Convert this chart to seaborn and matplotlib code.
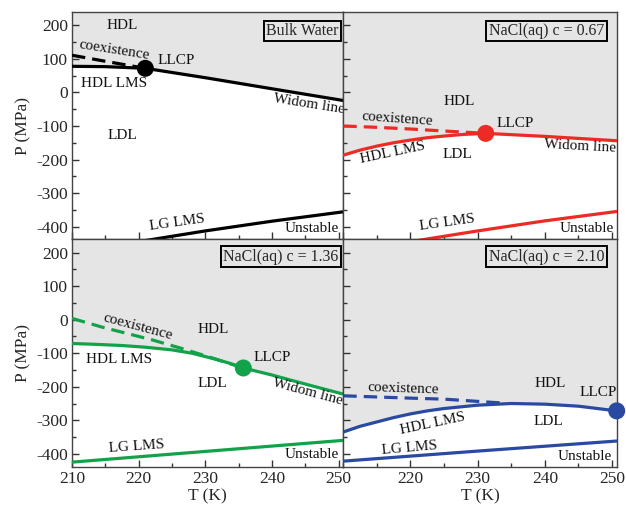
import numpy as np
import pandas as pd
import matplotlib
matplotlib.use("Agg")
import matplotlib.pyplot as plt
import seaborn as sns
from matplotlib.ticker import MultipleLocator

# ---- data (T in K, P in MPa) ----
panel_names = ["Bulk Water", "NaCl(aq) c = 0.67", "NaCl(aq) c = 1.36", "NaCl(aq) c = 2.10"]
panel_colors = ["#000000", "#ee2a24", "#12a24a", "#2a4aa2"]

# bulk water
bulk_lms_T = [210, 215, 221]
bulk_lms_P = [78, 77, 72]
bulk_coex_T = [210, 215, 221]
bulk_coex_P = [111, 93, 72]
bulk_widom_T = [221, 230, 240, 250.7]
bulk_widom_P = [72, 44, 11, -24]
bulk_lg_T = [220, 230, 240, 250.7]
bulk_lg_P = [-445, -413, -384, -356]
bulk_llcp = (221, 72)

# c = 0.67
c067_lms_T = [210, 212.5, 215, 217.5, 220, 222.5, 225, 228, 231.2]
c067_lms_P = [-187, -172, -160, -150, -142, -135, -130, -125, -122]
c067_coex_T = [210, 215, 220, 225, 231.2]
c067_coex_P = [-100, -104, -109, -115, -122]
c067_widom_T = [231.2, 240, 250.7]
c067_widom_P = [-122, -131, -144]
c067_lg_T = [220, 230, 240, 250.7]
c067_lg_P = [-445, -413, -383, -355]
c067_llcp = (231.2, -122)

# c = 1.36
c136_lms_T = [210, 213, 217.5, 221, 225, 228, 231, 233.5, 235.7]
c136_lms_P = [-71, -73, -77, -82, -90, -100, -115, -129, -144]
c136_coex_T = [210, 214.5, 222, 226.5, 231.5, 235.7]
c136_coex_P = [4, -22, -60, -86, -117, -144]
c136_widom_T = [235.7, 240, 245, 250.7]
c136_widom_P = [-144, -165, -192, -222]
c136_lg_T = [210, 230, 250.7]
c136_lg_P = [-425, -393, -360]
c136_llcp = (235.7, -144)

# c = 2.10
c210_lms_T = [210, 212.5, 215, 217.5, 220, 222.5, 225, 230, 235, 240, 245, 250.7]
c210_lms_P = [-335, -318, -305, -292, -281, -272, -265, -255, -250, -252, -258, -272]
c210_coex_T = [210, 220, 225, 231, 234]
c210_coex_P = [-227, -234, -237, -245, -249]
c210_widom_T = []
c210_widom_P = []
c210_lg_T = [210, 230, 250.7]
c210_lg_P = [-422, -392, -362]
c210_llcp = (250.7, -272)

panels = [
    (bulk_lms_T, bulk_lms_P, bulk_coex_T, bulk_coex_P, bulk_widom_T, bulk_widom_P, bulk_lg_T, bulk_lg_P, bulk_llcp),
    (c067_lms_T, c067_lms_P, c067_coex_T, c067_coex_P, c067_widom_T, c067_widom_P, c067_lg_T, c067_lg_P, c067_llcp),
    (c136_lms_T, c136_lms_P, c136_coex_T, c136_coex_P, c136_widom_T, c136_widom_P, c136_lg_T, c136_lg_P, c136_llcp),
    (c210_lms_T, c210_lms_P, c210_coex_T, c210_coex_P, c210_widom_T, c210_widom_P, c210_lg_T, c210_lg_P, c210_llcp),
]

# region labels: (text, T, P, rotation)
labels = [
    [("HDL", 217.5, 200, 0), ("coexistence", 216.3, 127, -9), ("LLCP", 225.6, 95, 0),
     ("HDL LMS", 216.3, 27, 0), ("LDL", 217.5, -127, 0), ("Widom line", 245.5, -34, -9),
     ("LG LMS", 225.7, -387, 8), ("Unstable", 245.9, -405, 0)],
    [("HDL", 227.2, -28, 0), ("coexistence", 218.0, -78, -4), ("LLCP", 235.6, -92, 0),
     ("HDL LMS", 217.3, -181, 12), ("LDL", 227.0, -184, 0), ("Widom line", 245.2, -161, -3),
     ("LG LMS", 225.5, -389, 8), ("Unstable", 246.3, -405, 0)],
    [("coexistence", 219.8, -20, -15), ("HDL", 231.2, -30, 0), ("LLCP", 240.0, -114, 0),
     ("HDL LMS", 217.0, -120, 0), ("LDL", 231.0, -190, 0), ("Widom line", 245.3, -216, -15),
     ("LG LMS", 219.7, -380, 4), ("Unstable", 246.0, -402, 0)],
    [("coexistence", 218.9, -205, -2), ("HDL", 240.8, -190, 0), ("LLCP", 248.0, -218, 0),
     ("HDL LMS", 223.3, -309, 12), ("LDL", 240.5, -305, 0),
     ("LG LMS", 219.8, -384, 5), ("Unstable", 246.0, -408, 0)],
]

# where each name box sits (axes fraction of the text's top-right corner)
box_x = [0.982, 0.954, 0.982, 0.954]
box_y = [0.952, 0.952, 0.958, 0.958]

sns.set_theme(style="ticks")
plt.rcParams['font.family'] = ['Liberation Serif', 'DejaVu Serif']
plt.rcParams['axes.unicode_minus'] = False
plt.rcParams['xtick.direction'] = 'in'
plt.rcParams['ytick.direction'] = 'in'

fig = plt.figure(figsize=(6.26, 5.05), dpi=100)
x0, xm, x1 = 72 / 626, 343.3 / 626, 616.7 / 626
y0, ym, y1 = 1 - 466.5 / 505, 1 - 239.3 / 505, 1 - 12 / 505
positions = [
    [x0, ym, xm - x0, y1 - ym],
    [xm, ym, x1 - xm, y1 - ym],
    [x0, y0, xm - x0, ym - y0],
    [xm, y0, x1 - xm, ym - y0],
]

bg_gray = "#e5e5e5"
lw = 2.3

for i, (pos, data, name, col, labs) in enumerate(zip(positions, panels, panel_names, panel_colors, labels)):
    lms_T, lms_P, coex_T, coex_P, wid_T, wid_P, lg_T, lg_P, llcp = data
    ax = fig.add_axes(pos)
    ax.set_xlim(210, 250.7)
    ax.set_ylim(-438, 240)

    # grey HDL region above the LMS / Widom line
    up_T = list(lms_T) + list(wid_T)
    up_P = list(lms_P) + list(wid_P)
    ax.fill_between(up_T, up_P, 300, color=bg_gray, lw=0, zorder=0)

    up_df = pd.DataFrame({"T": up_T, "P": up_P})
    sns.lineplot(data=up_df, x="T", y="P", sort=False, estimator=None, color=col, lw=lw, ax=ax, zorder=3)
    coex_df = pd.DataFrame({"T": coex_T, "P": coex_P})
    sns.lineplot(data=coex_df, x="T", y="P", sort=False, estimator=None, color=col, lw=lw, ax=ax, zorder=3)
    ax.lines[-1].set_dashes([4.2, 2.2])
    lg_df = pd.DataFrame({"T": lg_T, "P": lg_P})
    sns.lineplot(data=lg_df, x="T", y="P", sort=False, estimator=None, color=col, lw=lw, ax=ax, zorder=3)

    pt = pd.DataFrame({"T": [llcp[0]], "P": [llcp[1]]})
    sns.scatterplot(data=pt, x="T", y="P", color=col, s=150, edgecolor="none", ax=ax, zorder=5, clip_on=False)

    for txt, tx, ty, rot in labs:
        ax.text(tx, ty, txt, ha="center", va="center", rotation=rot, fontsize=11, color="#111111", zorder=6)

    ax.text(box_x[i], box_y[i], name, transform=ax.transAxes, ha="right", va="top", fontsize=11.5, zorder=7,
            bbox=dict(boxstyle="square,pad=0.15", facecolor=bg_gray, edgecolor="black", lw=1.4))

    ax.xaxis.set_major_locator(MultipleLocator(10))
    ax.xaxis.set_minor_locator(MultipleLocator(5))
    ax.yaxis.set_major_locator(MultipleLocator(100))
    ax.yaxis.set_minor_locator(MultipleLocator(50))
    ax.tick_params(which="major", length=5, width=1, color="#333333", labelsize=12.5, pad=3)
    ax.tick_params(which="minor", length=3, width=1, color="#333333")
    for s in ax.spines.values():
        s.set_linewidth(1.0)
        s.set_color("#444444")

    if i % 2 == 0:
        ax.set_ylabel("P (MPa)", fontsize=12.5)
        ax.yaxis.set_label_coords(-0.15, 0.5)
    else:
        ax.set_yticklabels([])
        ax.set_ylabel("")
    if i >= 2:
        ax.set_xlabel("T (K)", fontsize=12.5)
        ax.xaxis.set_label_coords(0.5, -0.095)
        ax.set_xticks([210, 220, 230, 240, 250] if i == 2 else [220, 230, 240, 250])
    else:
        ax.set_xticklabels([])
        ax.set_xlabel("")

plt.savefig("out.png", dpi=100)
